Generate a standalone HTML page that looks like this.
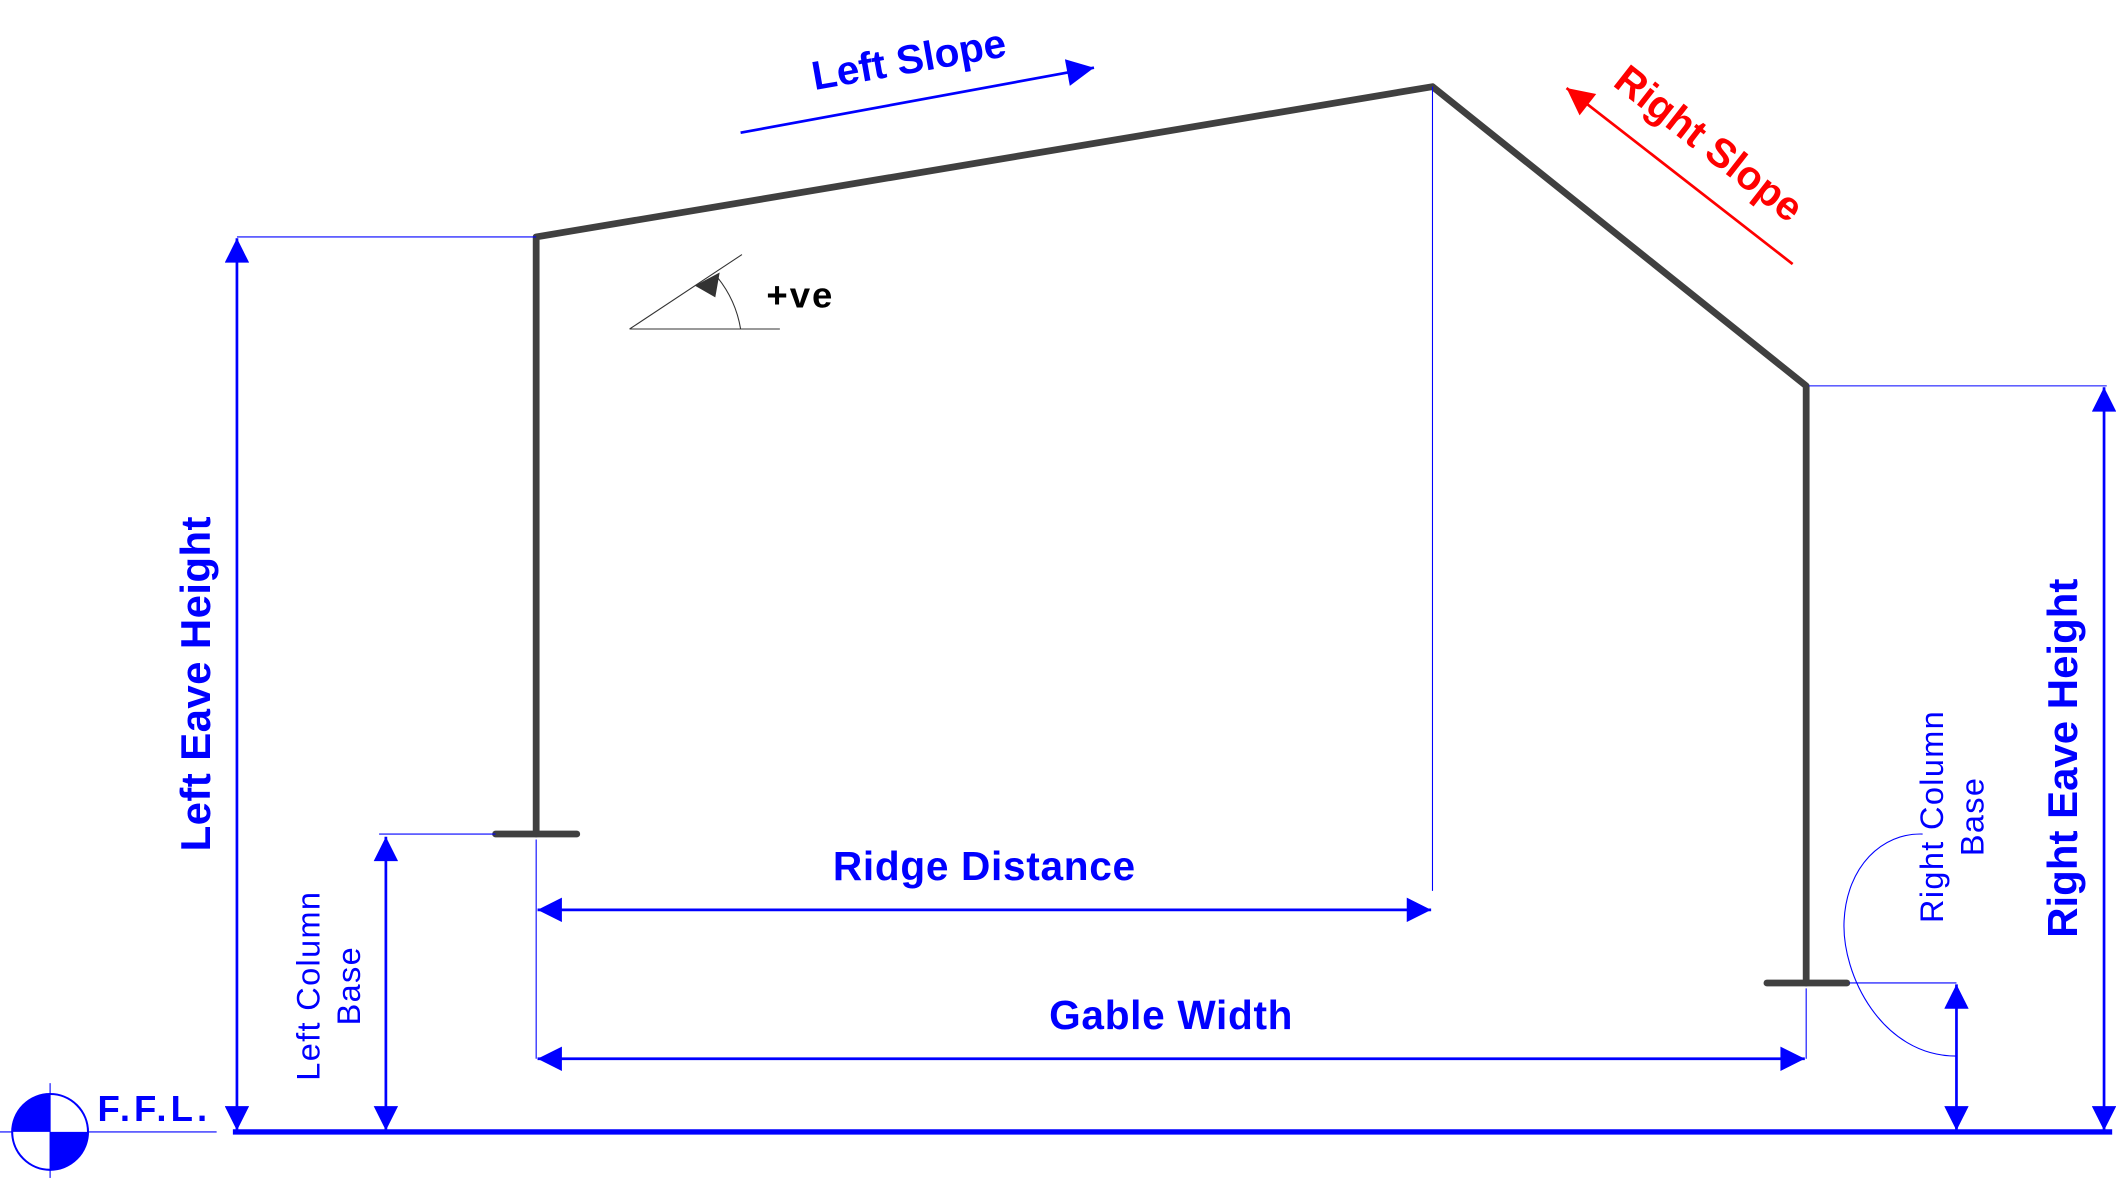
<!DOCTYPE html>
<html><head><meta charset="utf-8"><style>
html,body{margin:0;padding:0;background:#fff;}
svg{display:block;}
text{font-family:"Liberation Sans",sans-serif;}
</style></head><body>
<svg width="2123" height="1182" viewBox="0 0 1568 873" preserveAspectRatio="none">
<defs>
<marker id="abig" viewBox="0 0 10 10" refX="10" refY="5" markerWidth="28" markerHeight="20" markerUnits="userSpaceOnUse" orient="auto-start-reverse"><path d="M0,0 L10,5 L0,10 z" fill="#0000ff"/></marker>
<marker id="ar" viewBox="0 0 10 10" refX="10" refY="5" markerWidth="28" markerHeight="20" markerUnits="userSpaceOnUse" orient="auto-start-reverse"><path d="M0,0 L10,5 L0,10 z" fill="#ff0000"/></marker>
<marker id="ad" viewBox="0 0 10 10" refX="10" refY="5" markerWidth="28" markerHeight="18" markerUnits="userSpaceOnUse" orient="auto-start-reverse"><path d="M0,0 L10,5 L0,10 z" fill="#0000ff"/></marker>
</defs>

<g stroke="#404040" stroke-width="5" fill="none" stroke-linecap="round" stroke-linejoin="round">
<polyline points="396,616 396,175 1058,64 1334,285 1334,726"/>
<line x1="366" y1="616" x2="426" y2="616"/>
<line x1="1305" y1="726" x2="1364" y2="726"/>
</g>

<line x1="172" y1="836" x2="1560" y2="836" stroke="#0000ff" stroke-width="4"/>

<g stroke="#0000ff" stroke-width="0.8" fill="none">
<line x1="175" y1="175" x2="396" y2="175"/>
<line x1="280" y1="616" x2="366" y2="616"/>
<line x1="1058" y1="64" x2="1058" y2="658"/>
<line x1="396" y1="620" x2="396" y2="782"/>
<line x1="1334" y1="730" x2="1334" y2="782"/>
<line x1="1336" y1="285" x2="1556" y2="285"/>
<line x1="1366" y1="726" x2="1445" y2="726"/>
<path d="M1445,780 C1390,780 1360,720 1362,680 C1364,640 1390,615 1420,616"/>
<line x1="0" y1="836" x2="160" y2="836"/>
</g>

<g stroke="#0000ff" stroke-width="2" fill="none">
<line x1="175" y1="176" x2="175" y2="835" marker-start="url(#ad)" marker-end="url(#ad)"/>
<line x1="285" y1="618" x2="285" y2="835" marker-start="url(#ad)" marker-end="url(#ad)"/>
<line x1="397" y1="672" x2="1057" y2="672" marker-start="url(#ad)" marker-end="url(#ad)"/>
<line x1="397" y1="782" x2="1333" y2="782" marker-start="url(#ad)" marker-end="url(#ad)"/>
<line x1="1554" y1="286" x2="1554" y2="835" marker-start="url(#ad)" marker-end="url(#ad)"/>
<line x1="1445" y1="727" x2="1445" y2="835" marker-start="url(#ad)" marker-end="url(#ad)"/>
<line x1="547" y1="98" x2="808" y2="50" marker-end="url(#abig)"/>
</g>
<line x1="1324" y1="195" x2="1157" y2="65" stroke="#ff0000" stroke-width="2" marker-end="url(#ar)"/>

<g stroke="#333" stroke-width="0.8" fill="none">
<line x1="465" y1="243" x2="576" y2="243"/>
<line x1="465" y1="243" x2="548" y2="188"/>
<path d="M547,243 A82,82 0 0 0 530,205"/>
<path d="M514,211 L531,202 L528,219 z" fill="#333"/>
</g>
<text x="566" y="227" font-size="27" font-weight="bold" fill="#000" letter-spacing="1.5">+ve</text>

<g>
<circle cx="37" cy="836" r="28" fill="#fff" stroke="#0000ff" stroke-width="1.5"/>
<path d="M37,836 L9,836 A28,28 0 0 1 37,808 z" fill="#0000ff"/>
<path d="M37,836 L65,836 A28,28 0 0 1 37,864 z" fill="#0000ff"/>
<line x1="37" y1="800" x2="37" y2="870" stroke="#0000ff" stroke-width="0.8"/>
</g>
<text x="72" y="828" font-size="27" font-weight="bold" fill="#0000ff" letter-spacing="3">F.F.L.</text>

<g fill="#0000ff" font-weight="bold">
<text x="673" y="54" font-size="30" text-anchor="middle" transform="rotate(-10 673 54)">Left Slope</text>
<text x="727" y="650" font-size="30" text-anchor="middle" letter-spacing="0.5">Ridge Distance</text>
<text x="865" y="760" font-size="30" text-anchor="middle" letter-spacing="0.5">Gable Width</text>
<text x="155" y="505" font-size="31" text-anchor="middle" letter-spacing="0.3" transform="rotate(-90 155 505)">Left Eave Height</text>
<text x="1534" y="560" font-size="31" text-anchor="middle" transform="rotate(-90 1534 560)">Right Eave Height</text>
</g>
<text x="1256" y="114" font-size="30" font-weight="bold" fill="#ff0000" text-anchor="middle" transform="rotate(38 1256 114)">Right Slope</text>
<g fill="#0000ff" font-size="24">
<text transform="translate(236 728) rotate(-90)" text-anchor="middle" letter-spacing="1"><tspan x="0" y="0">Left Column</tspan><tspan x="0" y="30">Base</tspan></text>
<text transform="translate(1435 603) rotate(-90)" text-anchor="middle" letter-spacing="1"><tspan x="0" y="0">Right Column</tspan><tspan x="0" y="30">Base</tspan></text>
</g>
</svg>
</body></html>
